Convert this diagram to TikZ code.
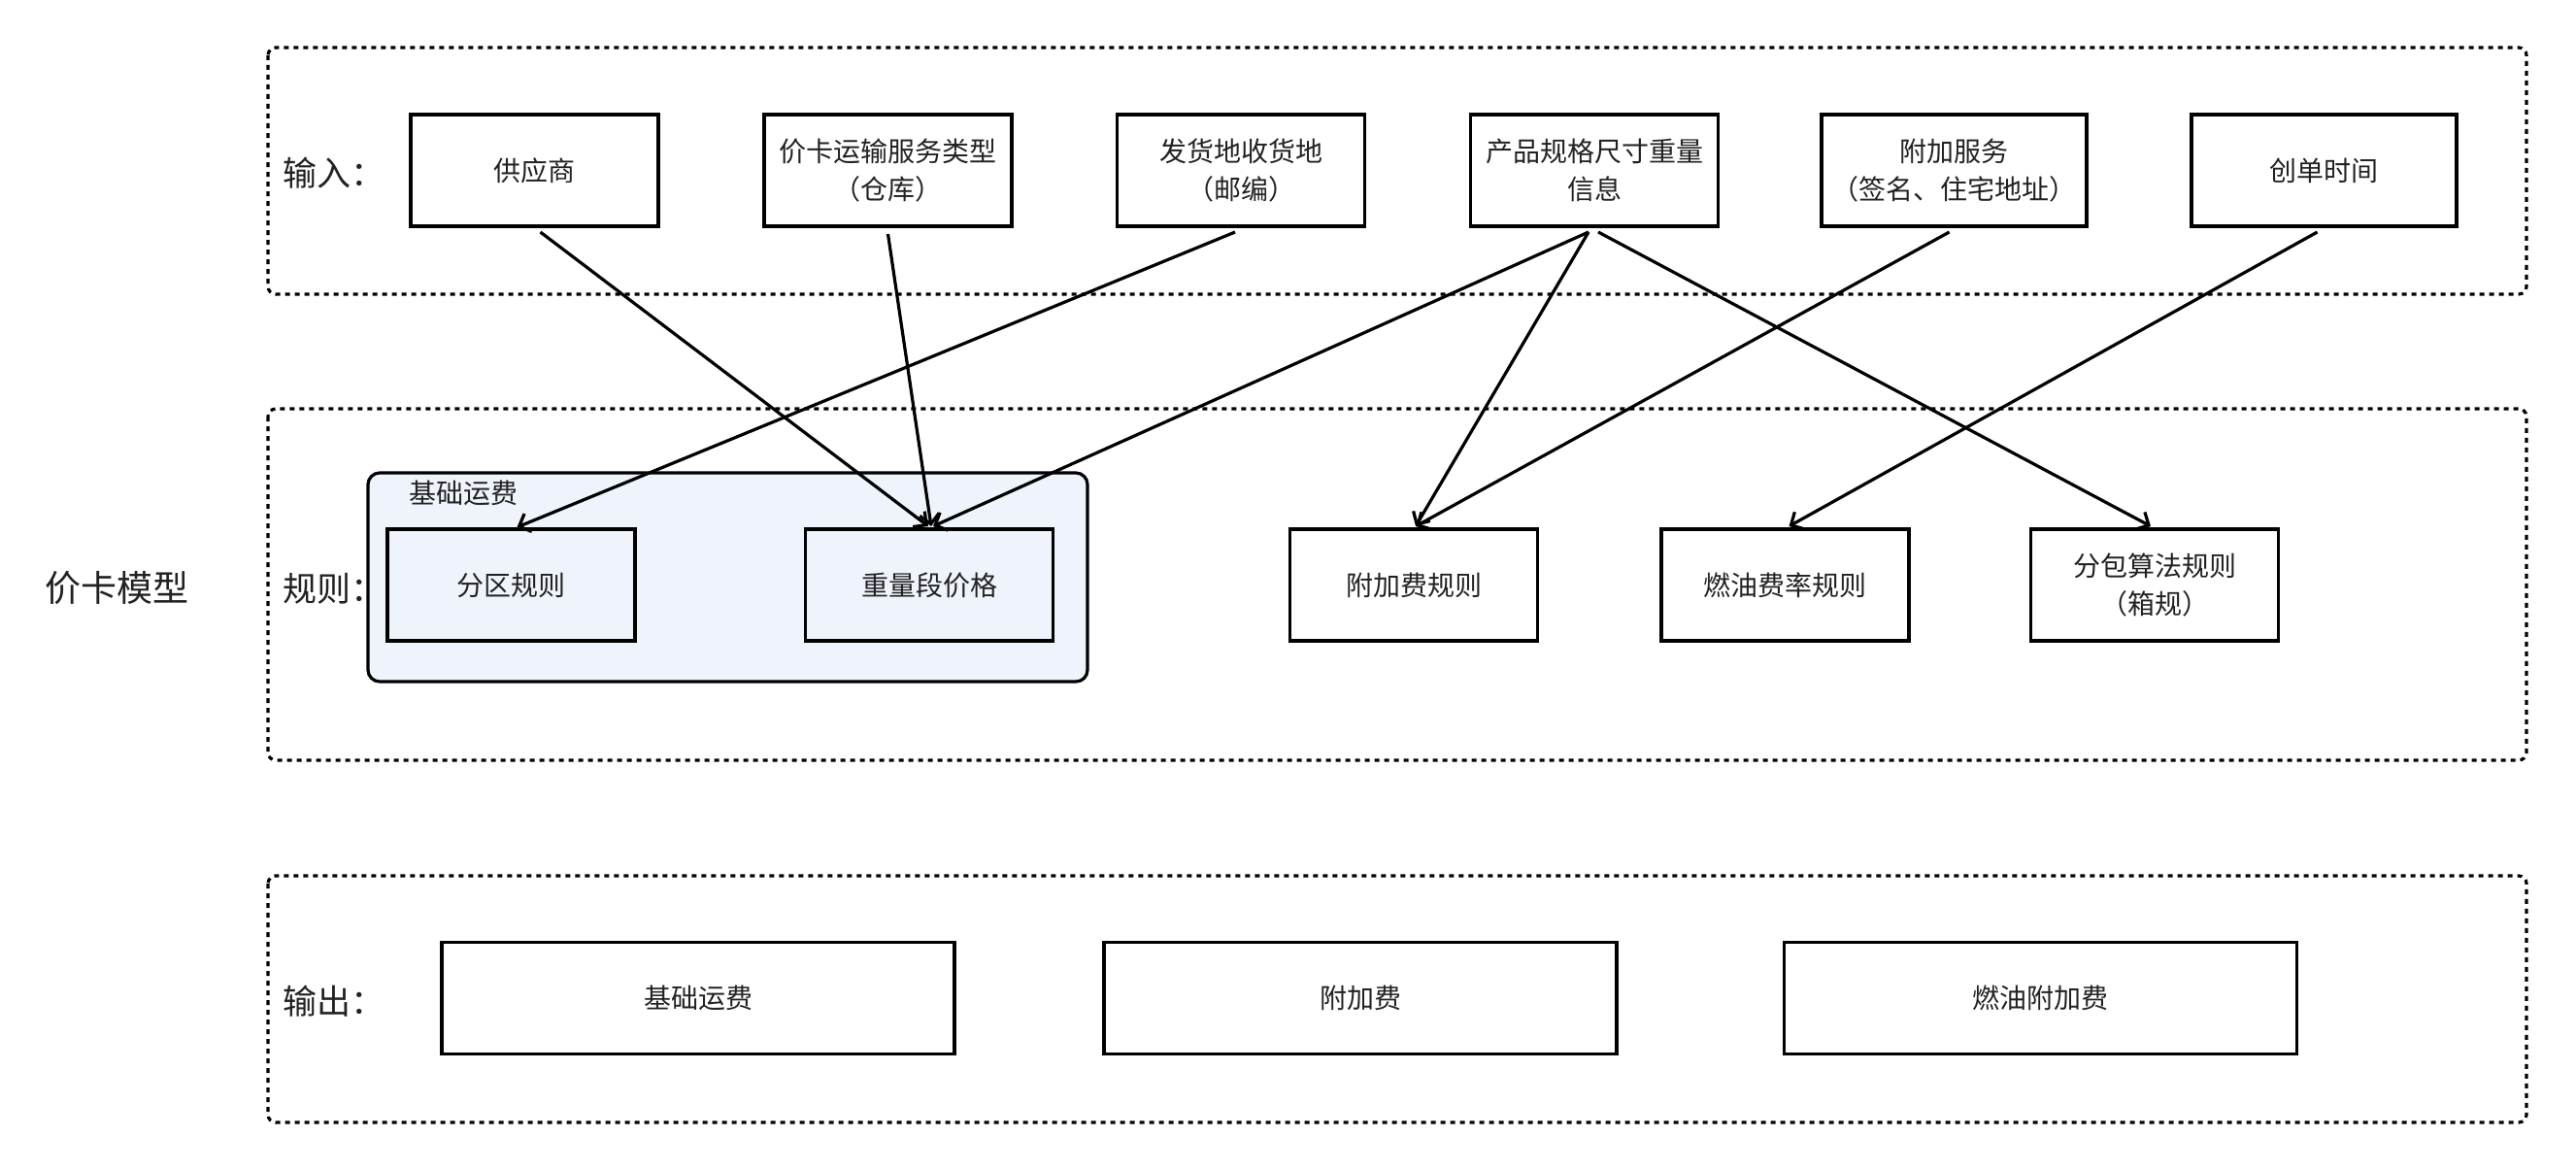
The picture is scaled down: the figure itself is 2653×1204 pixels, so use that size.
\documentclass[tikz,border=0pt]{standalone}
\usepackage{fontspec}
\setmainfont{Noto Sans CJK SC}
\usetikzlibrary{arrows.meta,calc}
\definecolor{txt}{HTML}{222222}
\definecolor{grpfill}{HTML}{EFF3FB}
\begin{document}
\begin{tikzpicture}[x=0.5pt,y=-0.5pt,
  box/.style={draw=black, line width=1.6pt, minimum width=127.5pt, minimum height=57.5pt,
    inner sep=2pt, outer sep=0pt, align=center, text=txt, font=\fontsize{14}{19.5}\selectfont},
  region/.style={draw=black, line width=1.6pt, dash pattern=on 2.5pt off 2.5pt, rounded corners=4pt},
  lbl/.style={text=txt, font=\fontsize{17.5}{20}\selectfont, inner sep=0pt},
  conn/.style={line width=1.6pt, -{Straight Barb[length=5pt,width=10pt,line width=1.6pt]}}
]
\useasboundingbox (0,0) rectangle (2653,1204);
\fill[white] (0,0) rectangle (2653,1204);

% regions
\draw[region] (276,49) rectangle (2602,303);
\draw[region] (276,421) rectangle (2602,783);
\draw[region] (276,902) rectangle (2602,1156);

% labels
\node[lbl, font=\fontsize{18.5}{20}\selectfont] (model) at (120,606) {价卡模型};
\node[lbl, anchor=west] (lin) at (291,178) {输入：};
\node[lbl, anchor=west] (lrule) at (291,606) {规则：};
\node[lbl, anchor=west] (lout) at (291,1031) {输出：};

% inputs
\node[box] (sup) at (550.5,175.5) {供应商};
\node[box] (svc) at (914.5,175.5) {价卡运输服务类型\\（仓库）};
\node[box] (addr) at (1278,175.5) {发货地收货地\\（邮编）};
\node[box] (spec) at (1642,175.5) {产品规格尺寸重量\\信息};
\node[box, minimum width=136.5pt] (add) at (2012.5,175.5) {附加服务\\（签名、住宅地址）};
\node[box, minimum width=136.5pt] (time) at (2393.5,175.5) {创单时间};

% group
\draw[line width=1.6pt, fill=grpfill, rounded corners=6pt] (379,487) rectangle (1120,702);
\node[text=txt, font=\fontsize{14}{16}\selectfont, inner sep=0pt] (glabel) at (477,508) {基础运费};

% rules
\node[box] (zone) at (526.5,602.5) {分区规则};
\node[box] (weight) at (957,602.5) {重量段价格};
\node[box] (addrule) at (1456,602.5) {附加费规则};
\node[box] (fuel) at (1838.5,602.5) {燃油费率规则};
\node[box] (pack) at (2219,602.5) {分包算法规则\\（箱规）};

% outputs
\node[box, minimum width=264pt] (base) at (719,1028) {基础运费};
\node[box, minimum width=264pt] (addfee) at (1401,1028) {附加费};
\node[box, minimum width=264pt] (fuelfee) at (2101.5,1028) {燃油附加费};

% connectors
\draw[conn] ($(sup.south)+(6,6)$) -- ($(weight.north)+(-1,-3)$);
\draw[conn] ($(svc.south)+(0,8)$) -- ($(weight.north)+(2,-3)$);
\draw[conn] ($(addr.south)+(-6,6)$) -- ($(zone.north)+(6,-2)$);
\draw[conn] ($(spec.south)+(-6,6)$) -- ($(weight.north)+(4,-3)$);
\draw[conn] ($(spec.south)+(-6,6)$) -- ($(addrule.north)+(2,-3)$);
\draw[conn] ($(spec.south)+(4,6)$) -- ($(pack.north)+(-4,-3)$);
\draw[conn] ($(add.south)+(-5,6)$) -- ($(addrule.north)+(2,-3)$);
\draw[conn] ($(time.south)+(-7,6)$) -- ($(fuel.north)+(4,-3)$);
\end{tikzpicture}
\end{document}
